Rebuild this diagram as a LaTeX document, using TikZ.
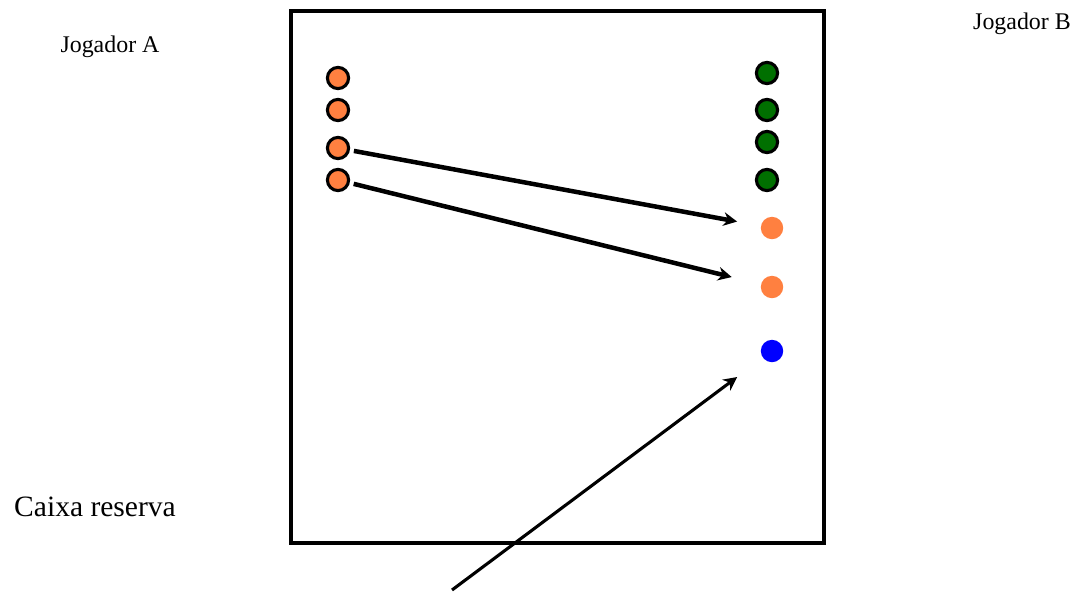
\documentclass[tikz,border=0pt]{standalone}
\usepackage{fontspec}
\setmainfont{Liberation Serif}
\usetikzlibrary{arrows.meta, positioning, calc}
\definecolor{peca}{HTML}{FF8040}
\definecolor{verde}{HTML}{007000}
\definecolor{azul}{HTML}{0000FF}

\begin{document}
\begin{tikzpicture}[x=0.025cm, y=-0.025cm,
  >={Stealth[length=3.4mm, width=3.4mm]},
  pecaA/.style={circle, draw=black, line width=2.2pt, fill=peca, inner sep=0pt, minimum size=5.3mm},
  pecaB/.style={circle, draw=black, line width=2.2pt, fill=verde, inner sep=0pt, minimum size=5.3mm},
  livre/.style={circle, fill=#1, inner sep=0pt, minimum size=5.6mm},
  jogada/.style={->, line width=3.2pt, black},
  rotulo/.style={font=\fontsize{17}{20}\selectfont, text=black},
]

% Area
\useasboundingbox (0,0) rectangle (1076,592);
\draw[line width=2.8pt] (291,11) rectangle (824,543);

% Labels
\node[rotulo] (ja) at (110,47) {Jogador A};
\node[rotulo] (jb) at (1022,24) {Jogador B};
\node[rotulo, font=\fontsize{21}{24}\selectfont] (cx) at (95,507) {Caixa reserva};

% Jogador A pieces
\node[pecaA] (a1) at (338,78) {};
\node[pecaA] (a2) at (338,110) {};
\node[pecaA] (a3) at (338,148) {};
\node[pecaA] (a4) at (338,180) {};

% Jogador B pieces
\node[pecaB] (b1) at (767,73) {};
\node[pecaB] (b2) at (767,110) {};
\node[pecaB] (b3) at (767,142) {};
\node[pecaB] (b4) at (767,180) {};

% Free places
\node[livre=peca] (r1) at (772,228) {};
\node[livre=peca] (r2) at (772,287) {};
\node[livre=azul] (q) at (772,351) {};

% Moves
\draw[jogada, shorten <=1mm, shorten >=6mm] (a3) -- (r1);
\draw[jogada, shorten <=1mm, shorten >=7.5mm] (a4) -- (r2);
\coordinate (res) at (452,590);
\draw[jogada, line width=2.2pt, shorten >=8mm] (res) -- (q);

\end{tikzpicture}
\end{document}
